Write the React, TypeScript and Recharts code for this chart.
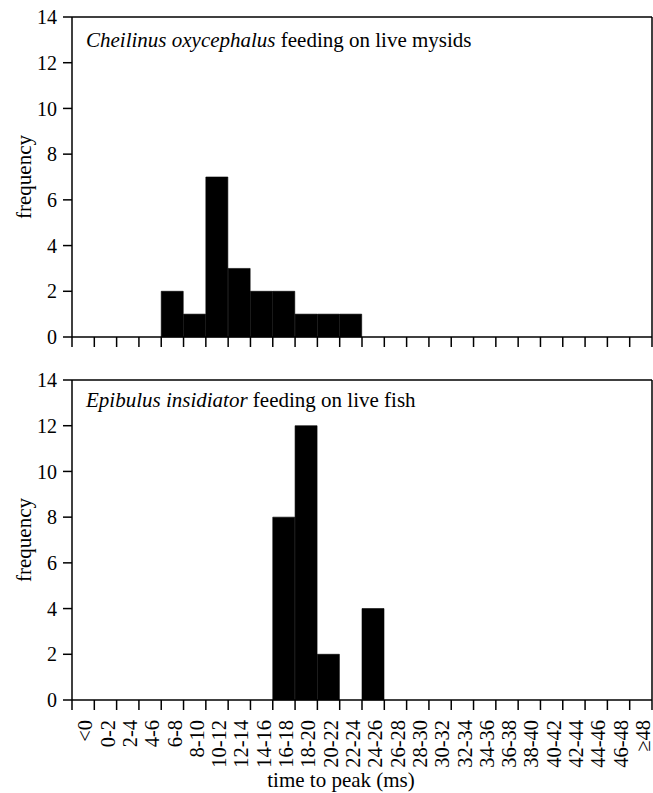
import React from "react";
import { BarChart, Bar, XAxis, YAxis } from "recharts";

const bins = [
  "<0", "0-2", "2-4", "4-6", "6-8", "8-10", "10-12", "12-14", "14-16", "16-18",
  "18-20", "20-22", "22-24", "24-26", "26-28", "28-30", "30-32", "32-34", "34-36",
  "36-38", "38-40", "40-42", "42-44", "44-46", "46-48", "≥48",
];
const mysids = [0, 0, 0, 0, 2, 1, 7, 3, 2, 2, 1, 1, 1, 0, 0, 0, 0, 0, 0, 0, 0, 0, 0, 0, 0, 0];
const fish = [0, 0, 0, 0, 0, 0, 0, 0, 0, 8, 12, 2, 0, 4, 0, 0, 0, 0, 0, 0, 0, 0, 0, 0, 0, 0];
const yTicks = [0, 2, 4, 6, 8, 10, 12, 14];

const font = "'Liberation Serif', 'Times New Roman', serif";
const axisStroke = { stroke: "#000", strokeWidth: 1.5 };

// tick marks sit on bin edges, labels in the bin centres
function BinTick(props: any) {
  const { x, y, payload, showLabels, plotWidth } = props;
  const half = payload.offset ? payload.offset : plotWidth / bins.length / 2;
  const last = payload.index === bins.length - 1;
  const tx = x + 2;
  const ty = y + 20;
  return (
    <g>
      <line x1={x - half} x2={x - half} y1={y} y2={y + 10} stroke="#000" strokeWidth={1.5} />
      {last && <line x1={x + half} x2={x + half} y1={y} y2={y + 10} stroke="#000" strokeWidth={1.5} />}
      {showLabels && (
        <text
          x={tx}
          y={ty}
          transform={`rotate(-90 ${tx} ${ty})`}
          textAnchor="end"
          dy="0.35em"
          fontFamily={font}
          fontSize={20.5}
          fill="#000"
        >
          {payload.value}
        </text>
      )}
    </g>
  );
}

interface PanelProps {
  counts: number[];
  species: string;
  rest: string;
  height: number;
  marginTop: number;
  axisHeight: number;
  titleDy: number;
  showLabels: boolean;
}

function Panel({ counts, species, rest, height, marginTop, axisHeight, titleDy, showLabels }: PanelProps) {
  const rows = bins.map((b, i) => ({ bin: b, count: counts[i] }))
  const plotWidth = 653 - 72 - 1;

  return (
    <BarChart
      width={653}
      height={height}
      data={rows}
      margin={{ top: marginTop, right: 0, bottom: 0, left: 0 }}
      barCategoryGap={0}
    >
      <XAxis
        xAxisId="bin"
        dataKey="bin"
        type="category"
        interval={0}
        height={axisHeight}
        tickLine={false}
        tickSize={0}
        tickMargin={0}
        axisLine={axisStroke}
        tick={(p: any) => <BinTick {...p} showLabels={showLabels} plotWidth={plotWidth} />}
        label={
          showLabels
            ? (p: any) => (
                <text
                  x={341}
                  y={p.viewBox.y + 87}
                  textAnchor="middle"
                  fontFamily={font}
                  fontSize={21}
                  fill="#000"
                >
                  time to peak (ms)
                </text>
              )
            : undefined
        }
      />
      <XAxis
        xAxisId="frame"
        orientation="top"
        type="number"
        domain={[0, 1]}
        height={1}
        tick={false}
        tickLine={false}
        axisLine={axisStroke}
        label={(p: any) => (
          <text x={p.viewBox.x + 14} y={p.viewBox.y + titleDy} fontFamily={font} fontSize={21} fill="#000">
            <tspan fontStyle="italic">{species}</tspan>
            {rest}
          </text>
        )}
      />
      <YAxis
        yAxisId="count"
        domain={[0, 14]}
        ticks={yTicks}
        interval={0}
        width={72}
        tickSize={9}
        tickMargin={6}
        tickLine={axisStroke}
        axisLine={axisStroke}
        tick={{ fill: "#000", fontSize: 20, fontFamily: font }}
        label={(p: any) => {
          const cx = 24;
          const cy = p.viewBox.y + p.viewBox.height / 2;
          return (
            <text
              x={cx}
              y={cy}
              transform={`rotate(-90 ${cx} ${cy})`}
              textAnchor="middle"
              dy="0.35em"
              fontFamily={font}
              fontSize={21}
              fill="#000"
            >
              frequency
            </text>
          );
        }}
      />
      <YAxis
        yAxisId="frame"
        orientation="right"
        domain={[0, 1]}
        width={1}
        tick={false}
        tickLine={false}
        axisLine={axisStroke}
      />
      <Bar
        xAxisId="bin"
        yAxisId="count"
        dataKey="count"
        fill="#000"
        stroke="#000"
        strokeWidth={0.6}
        isAnimationActive={false}
      />
    </BarChart>
  );
}

export default function App() {
  return (
    <div
      style={{
        position: "absolute",
        left: 0,
        top: 0,
        width: 653,
        height: 793,
        background: "#fff",
      }}
    >
      <Panel
        counts={mysids}
        species="Cheilinus oxycephalus"
        rest=" feeding on live mysids"
        height={360}
        marginTop={16}
        axisHeight={23}
        titleDy={31}
        showLabels={false}
      />
      <Panel
        counts={fish}
        species="Epibulus insidiator"
        rest=" feeding on live fish"
        height={433}
        marginTop={19}
        axisHeight={93}
        titleDy={28}
        showLabels={true}
      />
    </div>
  );
}
